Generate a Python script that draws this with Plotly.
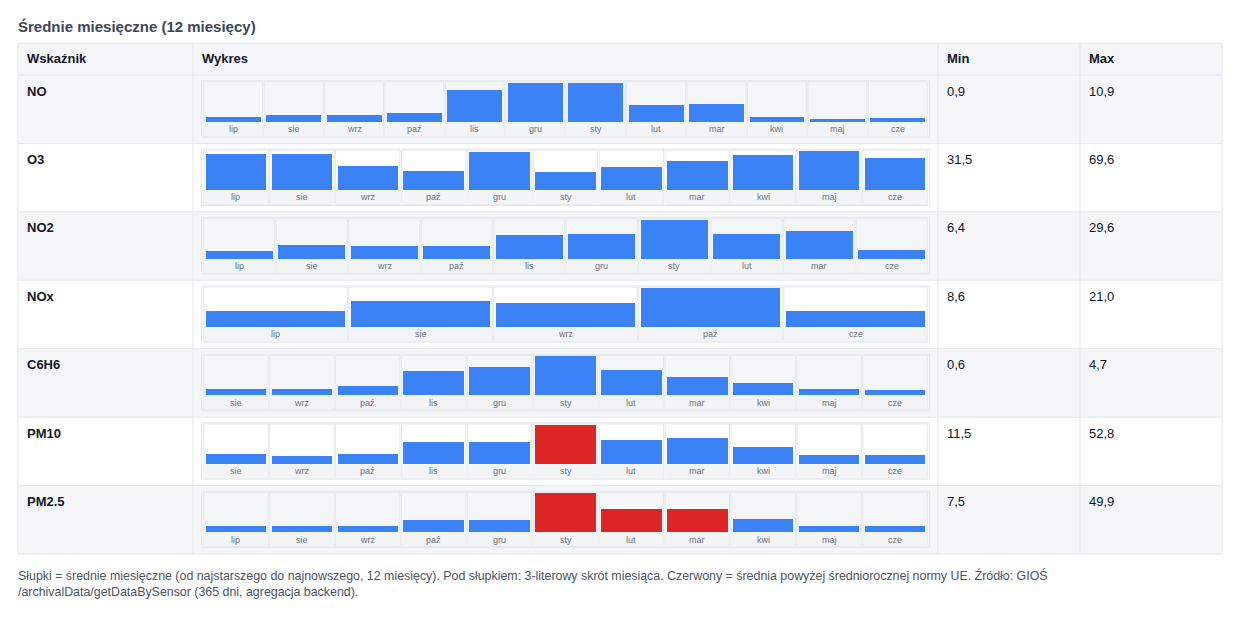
import plotly.graph_objects as go

# ---------------- data ----------------
indicators = ["NO", "O3", "NO2", "NOx", "C6H6", "PM10", "PM2.5"]

no_months = ["lip", "sie", "wrz", "paź", "lis", "gru", "sty", "lut", "mar", "kwi", "maj", "cze"]
no_values = [1.5, 2.0, 2.0, 2.7, 9.0, 10.8, 10.9, 4.8, 5.1, 1.5, 0.9, 1.2]

o3_months = ["lip", "sie", "wrz", "paź", "gru", "sty", "lut", "mar", "kwi", "maj", "cze"]
o3_values = [64.3, 64.3, 42.5, 34.8, 67.2, 31.5, 41.9, 52.5, 61.9, 69.6, 57.2]

no2_months = ["lip", "sie", "wrz", "paź", "lis", "gru", "sty", "lut", "mar", "cze"]
no2_values = [6.4, 10.4, 9.6, 9.6, 18.2, 19.2, 29.6, 19.2, 21.3, 7.1]

nox_months = ["lip", "sie", "wrz", "paź", "cze"]
nox_values = [8.7, 14.1, 12.7, 21.0, 8.6]

c6h6_months = ["sie", "wrz", "paź", "lis", "gru", "sty", "lut", "mar", "kwi", "maj", "cze"]
c6h6_values = [0.7, 0.7, 1.1, 2.9, 3.4, 4.7, 3.0, 2.2, 1.5, 0.7, 0.6]

pm10_months = ["sie", "wrz", "paź", "lis", "gru", "sty", "lut", "mar", "kwi", "maj", "cze"]
pm10_values = [14.4, 11.5, 14.4, 30.2, 29.8, 52.8, 32.0, 35.7, 22.6, 12.6, 12.6]

pm25_months = ["lip", "sie", "wrz", "paź", "gru", "sty", "lut", "mar", "kwi", "maj", "cze"]
pm25_values = [7.5, 8.5, 8.5, 16.1, 16.1, 49.9, 30.0, 30.0, 17.3, 8.5, 8.5]

eu_annual_norms = {"PM10": 40, "PM2.5": 25}

headers = ["Wskaźnik", "Wykres", "Min", "Max"]
title_text = "Średnie miesięczne (12 miesięcy)"
footer_lines = [
    "Słupki = średnie miesięczne (od najstarszego do najnowszego, 12 miesięcy). Pod słupkiem: 3-literowy skrót miesiąca. "
    "Czerwony = średnia powyżej średniorocznej normy UE. Źródło: GIOŚ",
    "/archivalData/getDataBySensor (365 dni, agregacja backend).",
]

rows = [
    ("NO", no_months, no_values),
    ("O3", o3_months, o3_values),
    ("NO2", no2_months, no2_values),
    ("NOx", nox_months, nox_values),
    ("C6H6", c6h6_months, c6h6_values),
    ("PM10", pm10_months, pm10_values),
    ("PM2.5", pm25_months, pm25_values),
]

# ---------------- layout helpers ----------------
W, H = 1240, 617
FONT = "Liberation Sans, Arial, Helvetica, sans-serif"
BORDER = "#e4e7eb"
GRAY = "#f5f6f8"
STRIP = "#f3f4f6"
BLUE = "#3b82f6"
RED = "#dc2626"
TXT = "#111827"

TBL_T, HDR_B, TBL_B = 43, 75, 554
COLS = [18, 193, 938, 1080, 1222]
ROW_H = (TBL_B - HDR_B) / len(rows)
CH_L, CH_R = 203, 928
PAD = 7  # text inset after annotation's own padding


def fx(p):
    return p / W


def fy(p):
    return 1 - p / H


shapes = []
annotations = []


def prect(x0, y0, x1, y1, fill, line="rgba(0,0,0,0)", lw=0):
    shapes.append(dict(type="rect", xref="paper", yref="paper",
                       x0=fx(x0), x1=fx(x1), y0=fy(y1), y1=fy(y0),
                       fillcolor=fill, line=dict(color=line, width=lw), layer="below"))


def pline(x0, y0, x1, y1):
    shapes.append(dict(type="line", xref="paper", yref="paper",
                       x0=fx(x0), x1=fx(x1), y0=fy(y0), y1=fy(y1),
                       line=dict(color=BORDER, width=1), layer="below"))


def ptext(x, y, text, size=13, bold=False, color=TXT):
    annotations.append(dict(xref="paper", yref="paper", x=fx(x), y=fy(y),
                            xanchor="left", yanchor="middle", showarrow=False,
                            text=f"<b>{text}</b>" if bold else text,
                            font=dict(family=FONT, size=size, color=color)))


def fmt(v):
    return f"{v:.1f}".replace(".", ",")


# table backgrounds
prect(COLS[0], TBL_T, COLS[-1], HDR_B, GRAY)
for k in range(len(rows)):
    rt = HDR_B + k * ROW_H
    prect(COLS[0], rt, COLS[-1], rt + ROW_H, GRAY if k % 2 == 0 else "#ffffff")

# grid lines
for y in [TBL_T, HDR_B] + [HDR_B + k * ROW_H for k in range(1, len(rows) + 1)]:
    pline(COLS[0], y, COLS[-1], y)
for x in COLS:
    pline(x, TBL_T, x, TBL_B)

# title + headers
ptext(16, 26, title_text, size=15, bold=True, color="#3d4756")
for x, h in zip(COLS[:-1], headers):
    ptext(x + PAD, 59, h, size=13, bold=True)

fig = go.Figure()
layout_axes = {}

for k, (name, months, vals) in enumerate(rows):
    rt = HDR_B + k * ROW_H
    ptext(COLS[0] + PAD, rt + 16, name, size=13, bold=True)
    ptext(COLS[2] + PAD, rt + 16, fmt(min(vals)), size=13)
    ptext(COLS[3] + PAD, rt + 16, fmt(max(vals)), size=13)

    top, zero, bot = rt + 6.7, rt + 47.0, rt + 61.0
    vmax = max(vals)
    hi = vmax * (zero - top) / (zero - top - 0.8)
    lo = -hi * (bot - zero) / (zero - top)
    n = len(months)
    cell_px = (CH_R - CH_L) / n
    g = 0.75 / cell_px

    sfx = "" if k == 0 else str(k + 1)
    xa, ya = "x" + sfx, "y" + sfx

    norm = eu_annual_norms.get(name)
    colors = [RED if (norm is not None and v > norm) else BLUE for v in vals]

    # outer frame
    prect(CH_L - 1.5, top - 1, CH_R + 1.5, bot + 1, "rgba(0,0,0,0)", BORDER, 1)

    for i, m in enumerate(months):
        shapes.append(dict(type="rect", xref=xa, yref=ya, x0=i - 0.5 + g, x1=i + 0.5 - g,
                           y0=lo, y1=0, fillcolor=STRIP, line=dict(width=0), layer="below"))
        shapes.append(dict(type="rect", xref=xa, yref=ya + " domain", x0=i - 0.5 + g, x1=i + 0.5 - g,
                           y0=0, y1=1, fillcolor="rgba(0,0,0,0)",
                           line=dict(color=BORDER, width=1), layer="below"))
        annotations.append(dict(xref=xa, yref=ya, x=m, y=lo / 2, text=m, showarrow=False,
                                xanchor="center", yanchor="middle",
                                font=dict(family=FONT, size=9, color="#6b7280")))

    fig.add_trace(go.Bar(x=months, y=vals, xaxis=xa, yaxis=ya,
                         marker=dict(color=colors, line=dict(width=0)),
                         width=(cell_px - 5.5) / cell_px, showlegend=False,
                         hoverinfo="x+y"))

    layout_axes["xaxis" + sfx] = dict(domain=[fx(CH_L), fx(CH_R)], anchor=ya, type="category",
                                      categoryorder="array", categoryarray=months,
                                      range=[-0.5, n - 0.5], showticklabels=False,
                                      showgrid=False, zeroline=False, showline=False,
                                      ticks="", fixedrange=True)
    layout_axes["yaxis" + sfx] = dict(domain=[fy(bot), fy(top)], anchor=xa, range=[lo, hi],
                                      showticklabels=False, showgrid=False, zeroline=False,
                                      showline=False, ticks="", fixedrange=True)

# footer
ptext(16, 575, footer_lines[0], size=12.4, color="#4b5563")
ptext(16, 592, footer_lines[1], size=12.4, color="#4b5563")

fig.update_layout(
    width=W, height=H,
    margin=dict(l=0, r=0, t=0, b=0),
    paper_bgcolor="#ffffff",
    plot_bgcolor="rgba(0,0,0,0)",
    shapes=shapes,
    annotations=annotations,
    bargap=0,
    font=dict(family=FONT),
    **layout_axes,
)

fig.write_html("out.html", config={"displayModeBar": False})
